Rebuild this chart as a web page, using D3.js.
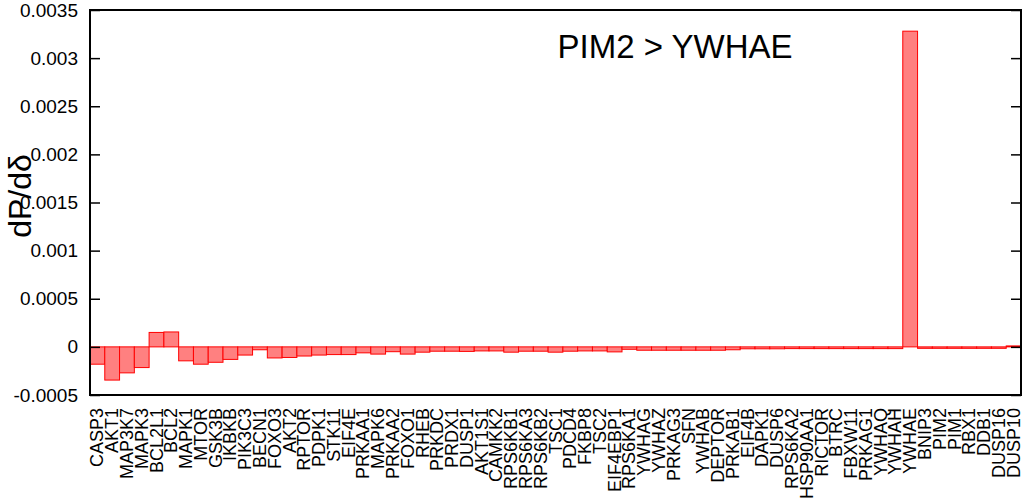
<!DOCTYPE html>
<html>
<head>
<meta charset="utf-8">
<script src="https://cdn.jsdelivr.net/npm/d3@7"></script>
<style>
  html, body { margin: 0; padding: 0; background: #fff; }
  svg { display: block; font-family: "Liberation Sans", Arial, Helvetica, sans-serif; }
</style>
</head>
<body>
<svg id="chart" width="1024" height="500"></svg>
<script>
const categories = ["CASP3","AKT1","MAP3K7","MAPK3","BCL2L1","BCL2","MAPK1","MTOR","GSK3B","IKBKB",
  "PIK3C3","BECN1","FOXO3","AKT2","RPTOR","PDPK1","STK11","EIF4E","PRKAA1","MAPK6",
  "PRKAA2","FOXO1","RHEB","PRKDC","PRDX1","DUSP1","AKT1S1","CAMKK2","RPS6KB1","RPS6KA3",
  "RPS6KB2","TSC1","PDCD4","FKBP8","TSC2","EIF4EBP1","RPS6KA1","YWHAG","YWHAZ","PRKAG3",
  "SFN","YWHAB","DEPTOR","PRKAB1","EIF4B","DAPK1","DUSP6","RPS6KA2","HSP90AA1","RICTOR",
  "BTRC","FBXW11","PRKAG1","YWHAQ","YWHAH","YWHAE","BNIP3","PIM2","PIM1","RBX1",
  "DDB1","DUSP16","DUSP10"];
const values = [-0.00018,-0.000345,-0.00027,-0.000215,0.00015,0.000155,-0.000145,-0.00018,-0.00016,-0.00013,
  -0.000085,-0.00003,-0.000115,-0.00011,-0.000095,-0.000085,-0.00008,-0.00008,-0.000062,-0.000075,
  -0.00005,-0.000075,-0.000055,-0.000045,-0.000045,-0.000047,-0.000042,-0.000042,-0.000055,-0.000045,
  -0.000045,-0.000055,-0.000045,-0.000042,-0.000042,-0.000052,-0.000025,-0.000035,-0.000035,-0.000035,
  -0.000035,-0.000035,-0.000035,-0.00003,-0.00002,-0.00002,-0.00002,-0.000018,-0.000018,-0.000018,
  -0.000018,-0.000018,-0.000018,-0.000018,-0.000018,0.00328,-0.000015,-0.000015,-0.000015,-0.000015,
  -0.000015,-0.000015,0.00001];
const yTicks = [-0.0005,0,0.0005,0.001,0.0015,0.002,0.0025,0.003,0.0035];
const yTickLabels = ["-0.0005","0","0.0005","0.001","0.0015","0.002","0.0025","0.003","0.0035"];
const yDomain = [-0.0005, 0.0035];
const titleText = "PIM2 > YWHAE";
const yLabelText = "dP/dδ";

const mL = 90, mR = 1021, mT = 10, mB = 395;
const svg = d3.select("#chart");

const x = d3.scaleBand().domain(categories).range([mL, mR]).padding(0);
const y = d3.scaleLinear().domain(yDomain).range([mB, mT]);

// bars
svg.append("g").selectAll("rect").data(values).join("rect")
  .attr("x", (d, i) => x(categories[i]))
  .attr("width", x.bandwidth())
  .attr("y", d => y(Math.max(0, d)))
  .attr("height", d => Math.abs(y(d) - y(0)))
  .attr("fill", "#ff8080")
  .attr("stroke", "#ff0000")
  .attr("stroke-width", 1);

// left axis (ticks inward)
const fmt = d => yTickLabels[yTicks.indexOf(d)];
const leftAxis = svg.append("g").attr("transform", `translate(${mL},0)`)
  .call(d3.axisRight(y).tickValues(yTicks).tickSize(10).tickFormat(""));
leftAxis.select(".domain").remove();
leftAxis.selectAll("line").attr("stroke", "#000").attr("stroke-width", 1.5);

const rightAxis = svg.append("g").attr("transform", `translate(${mR},0)`)
  .call(d3.axisLeft(y).tickValues(yTicks).tickSize(10).tickFormat(""));
rightAxis.select(".domain").remove();
rightAxis.selectAll("line").attr("stroke", "#000").attr("stroke-width", 1.5);

// y tick labels
const labAxis = svg.append("g").attr("transform", `translate(${mL},0)`)
  .call(d3.axisLeft(y).tickValues(yTicks).tickSize(0).tickPadding(12).tickFormat(fmt));
labAxis.select(".domain").remove();
labAxis.selectAll("text").attr("font-size", 19).attr("fill", "#000")
  .attr("font-family", "'Liberation Sans', Arial, sans-serif");

// frame
svg.append("rect").attr("x", mL).attr("y", mT)
  .attr("width", mR - mL).attr("height", mB - mT)
  .attr("fill", "none").attr("stroke", "#000").attr("stroke-width", 2);

// x labels
const xAxis = svg.append("g").attr("transform", `translate(0,${mB})`)
  .call(d3.axisBottom(x).tickSize(0).tickPadding(0));
xAxis.select(".domain").remove();
xAxis.selectAll("text")
  .attr("font-size", 18).attr("fill", "#000")
  .attr("font-family", "'Liberation Sans', Arial, sans-serif")
  .attr("text-anchor", "end")
  .attr("dy", null).attr("y", null)
  .attr("transform", "translate(6,13) rotate(-90)");

// title
svg.append("text").attr("x", 675).attr("y", 58).attr("text-anchor", "middle")
  .attr("font-size", 33).attr("fill", "#000").text(titleText);

// y label
svg.append("text").attr("transform", "translate(31,196) rotate(-90)")
  .attr("text-anchor", "middle").attr("font-size", 32).attr("fill", "#000").text(yLabelText);
</script>
</body>
</html>
